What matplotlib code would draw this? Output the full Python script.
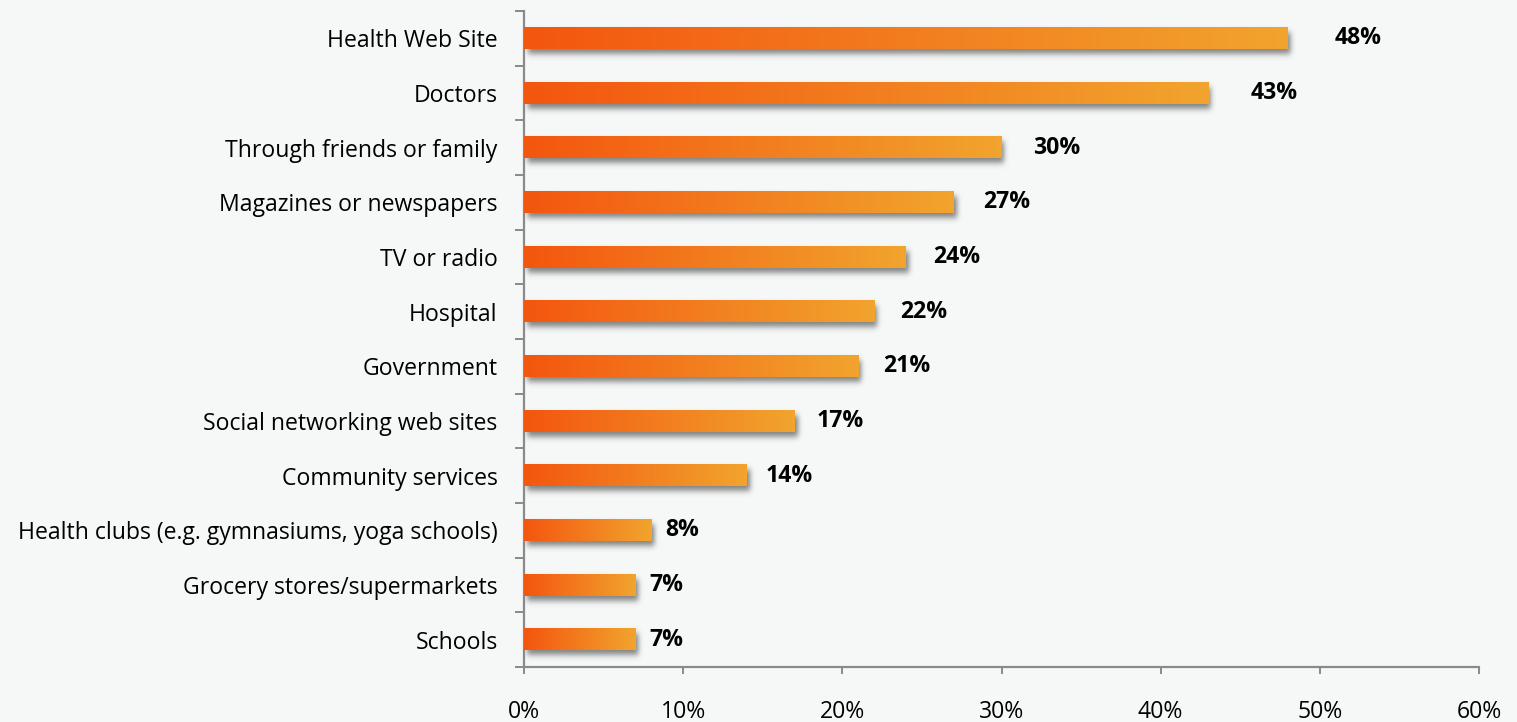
import math
import numpy as np
import matplotlib
matplotlib.use("Agg")
import matplotlib.pyplot as plt
from matplotlib.colors import LinearSegmentedColormap, to_rgb

# Sources of health information (share of respondents)
categories = [
    "Health Web Site",
    "Doctors",
    "Through friends or family",
    "Magazines or newspapers",
    "TV or radio",
    "Hospital",
    "Government",
    "Social networking web sites",
    "Community services",
    "Health clubs (e.g. gymnasiums, yoga schools)",
    "Grocery stores/supermarkets",
    "Schools",
]
values = [48, 43, 30, 27, 24, 22, 21, 17, 14, 8, 7, 7]
xtick_values = [0, 10, 20, 30, 40, 50, 60]
xtick_labels = [f"{t}%" for t in xtick_values]

BG = "#F6F8F8"
LEFT_COLOR = "#F4560F"
RIGHT_COLOR = "#F1A42E"
AXIS_COLOR = "#8A8A8A"
FONT = "Open Sans"
FS = 16.6

W, H, DPI = 1517, 722, 100
fig = plt.figure(figsize=(W / DPI, H / DPI), dpi=DPI, facecolor=BG)
ax = fig.add_axes([524 / W, 1 - 667 / H, (1479 - 524) / W, (667 - 11) / H])
ax.set_facecolor(BG)

n = len(categories)
xmax = 60
ax.set_xlim(0, xmax)
ax.set_ylim(n - 0.5, -0.5)

# pixel -> data conversions for the shadow geometry
px_x = xmax / (1479 - 524)
px_y = n / (667 - 11)

bar_h = 0.39
cmap = LinearSegmentedColormap.from_list("bar", [LEFT_COLOR, RIGHT_COLOR])
grad = np.linspace(0, 1, 256).reshape(1, -1)

erf = np.vectorize(math.erf)


def edge_profile(coord, lo, hi, sigma):
    return 0.5 * (erf((coord - lo) / (math.sqrt(2) * sigma))
                  - erf((coord - hi) / (math.sqrt(2) * sigma)))


for i, v in enumerate(values):
    y0 = i - bar_h / 2
    y1 = i + bar_h / 2

    # soft drop shadow, offset right and down
    dx, dy = 3 * px_x, 5 * px_y
    sx, sy = 2.5 * px_x, 3.0 * px_y
    sx0, sx1 = 0 + dx, v + dx
    sy0, sy1 = y0 + dy, y1 + dy
    ex0, ex1 = sx0 - 3 * sx, sx1 + 3 * sx
    ey0, ey1 = sy0 - 3 * sy, sy1 + 3 * sy
    xs = np.linspace(ex0, ex1, 400)
    ys = np.linspace(ey0, ey1, 60)
    ax_prof = edge_profile(xs, sx0, sx1, sx)
    ay_prof = edge_profile(ys, sy0, sy1, sy)
    alpha = 0.75 * np.outer(ay_prof, ax_prof)
    shadow = np.zeros((len(ys), len(xs), 4))
    shadow[..., :3] = to_rgb("#5A5A5A")
    shadow[..., 3] = alpha
    ax.imshow(shadow, extent=(ex0, ex1, ey1, ey0), origin="upper",
              aspect="auto", interpolation="bilinear", zorder=2)

    # gradient bar
    ax.imshow(grad, cmap=cmap, extent=(0, v, y1, y0), origin="upper",
              aspect="auto", interpolation="bilinear", zorder=3)

    # value label
    ax.annotate(f"{v}%", xy=(v, i), xytext=((8 + 0.8 * v) * 0.72, 0),
                textcoords="offset points", ha="left", va="center",
                fontsize=FS, fontweight="bold", family=FONT,
                color="black", zorder=4)

ax.set_xlim(0, xmax)
ax.set_ylim(n - 0.5, -0.5)

# axes styling
for side in ("top", "right"):
    ax.spines[side].set_visible(False)
for side in ("left", "bottom"):
    ax.spines[side].set_color(AXIS_COLOR)
    ax.spines[side].set_linewidth(1.6)

ax.set_xticks(xtick_values)
ax.set_xticklabels(xtick_labels, family=FONT, fontsize=FS)
ax.tick_params(axis="x", direction="out", length=5, width=1.4,
               color=AXIS_COLOR, pad=19, labelcolor="black")

ax.set_yticks(np.arange(-0.5, n, 1.0))
ax.set_yticklabels([])
ax.tick_params(axis="y", which="major", direction="out", length=6.5,
               width=1.4, color=AXIS_COLOR)
ax.set_yticks(np.arange(n), minor=True)
ax.set_yticklabels(categories, minor=True, family=FONT, fontsize=FS)
ax.tick_params(axis="y", which="minor", length=0, pad=19,
               labelcolor="black")

fig.savefig("out.png", dpi=DPI, facecolor=BG)
